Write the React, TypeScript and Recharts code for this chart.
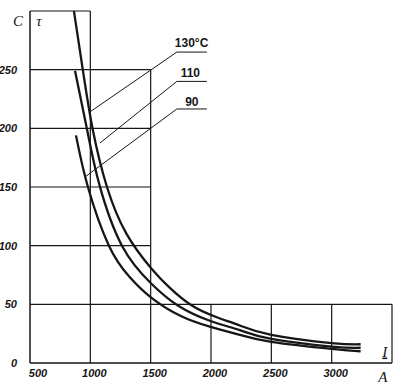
import React from "react";
import {
  LineChart,
  Line,
  XAxis,
  YAxis,
  ReferenceLine,
  ReferenceDot,
} from "recharts";

// curves: current I (A) vs time tau (s), one per temperature
const CURVE_130 = [
  { I: 864, t: 300 },
  { I: 939, t: 249 },
  { I: 1020, t: 199 },
  { I: 1138, t: 150 },
  { I: 1300, t: 110 },
  { I: 1502, t: 81 },
  { I: 1659, t: 64 },
  { I: 1841, t: 49 },
  { I: 2048, t: 39 },
  { I: 2239, t: 32 },
  { I: 2500, t: 24 },
  { I: 3000, t: 17 },
  { I: 3240, t: 16 },
];

const CURVE_110 = [
  { I: 873, t: 249 },
  { I: 975, t: 198 },
  { I: 1075, t: 152 },
  { I: 1262, t: 100 },
  { I: 1502, t: 68 },
  { I: 1725, t: 49 },
  { I: 1990, t: 36 },
  { I: 2239, t: 28 },
  { I: 2500, t: 20.5 },
  { I: 3000, t: 14 },
  { I: 3240, t: 13 },
];

const CURVE_90 = [
  { I: 881, t: 194 },
  { I: 980, t: 150 },
  { I: 1154, t: 100 },
  { I: 1320, t: 74 },
  { I: 1502, t: 56 },
  { I: 1750, t: 40 },
  { I: 1990, t: 31 },
  { I: 2239, t: 24 },
  { I: 2500, t: 18 },
  { I: 3000, t: 12 },
  { I: 3240, t: 10 },
];

const X_TICKS = [500, 1000, 1500, 2000, 2500, 3000];
const Y_TICKS = [0, 50, 100, 150, 200, 250];

// stepped grid of the original drawing
const GRID_SEGMENTS = [
  [[500, 300], [1000, 300]],
  [[1000, 0], [1000, 300]],
  [[500, 250], [1500, 250]],
  [[500, 200], [1500, 200]],
  [[500, 150], [1500, 150]],
  [[500, 100], [1500, 100]],
  [[1500, 0], [1500, 250]],
  [[500, 50], [3500, 50]],
  [[2000, 0], [2000, 50]],
  [[2500, 0], [2500, 50]],
  [[3000, 0], [3000, 50]],
  [[3500, 0], [3500, 50]],
];

// leader lines to the curve labels
const LEADERS = [
  [[997, 214], [1717, 265], [1966, 265]],
  [[1080, 187.5], [1717, 240], [1966, 240]],
  [[955, 158.5], [1717, 216.5], [1966, 216.5]],
];

const CURVE_LABELS = [
  { I: 1839, t: 273, text: "130°C" },
  { I: 1829, t: 247, text: "110" },
  { I: 1841, t: 223, text: "90" },
];

const AXIS_NAMES = [
  { I: 400, t: 292, text: "C" },
  { I: 575, t: 292, text: "τ" },
  { I: 3440, t: 10, text: "I", underline: true },
  { I: 3425, t: -12, text: "A" },
];

const INK = "#161616";

const XTick = ({ x, y, payload }: any) => (
  <text
    x={x + (payload.value === 500 ? 8 : 4)}
    y={y + 6}
    textAnchor="middle"
    fill={INK}
    fontSize={11}
    fontStyle="italic"
    fontWeight={600}
    fontFamily="Liberation Sans, Arial, sans-serif"
  >
    {payload.value}
  </text>
);

const YTick = ({ x, y, payload }: any) => (
  <text
    x={x}
    y={y + 4}
    textAnchor="end"
    fill={INK}
    fontSize={11}
    fontStyle="italic"
    fontWeight={600}
    fontFamily="Liberation Sans, Arial, sans-serif"
  >
    {payload.value}
  </text>
);

export default function App() {
  return (
    <div style={{ position: "absolute", left: 0, top: 0, background: "#fff" }}>
      <LineChart
        width={402}
        height={389}
        margin={{ top: 11, right: 10, bottom: 0, left: 0 }}
      >
        <XAxis
          dataKey="I"
          type="number"
          domain={[500, 3500]}
          ticks={X_TICKS}
          allowDuplicatedCategory={false}
          height={26}
          tickLine={false}
          axisLine={{ stroke: INK, strokeWidth: 1.5 }}
          tick={<XTick />}
        />
        <YAxis
          dataKey="t"
          type="number"
          domain={[0, 300]}
          ticks={Y_TICKS}
          width={30}
          tickLine={false}
          tickMargin={7}
          axisLine={{ stroke: INK, strokeWidth: 1.5 }}
          tick={<YTick />}
        />
        {GRID_SEGMENTS.map((s, i) => (
          <ReferenceLine
            key={"g" + i}
            segment={[
              { x: s[0][0], y: s[0][1] },
              { x: s[1][0], y: s[1][1] },
            ]}
            stroke={INK}
            strokeWidth={1.2}
            ifOverflow="visible"
          />
        ))}
        {LEADERS.map((l, i) =>
          l.slice(1).map((p, j) => (
            <ReferenceLine
              key={"l" + i + "-" + j}
              segment={[
                { x: l[j][0], y: l[j][1] },
                { x: p[0], y: p[1] },
              ]}
              stroke={INK}
              strokeWidth={1}
              ifOverflow="visible"
            />
          ))
        )}
        <Line
          data={CURVE_130}
          dataKey="t"
          type="natural"
          stroke={INK}
          strokeWidth={2.3}
          dot={false}
          isAnimationActive={false}
        />
        <Line
          data={CURVE_110}
          dataKey="t"
          type="natural"
          stroke={INK}
          strokeWidth={2.3}
          dot={false}
          isAnimationActive={false}
        />
        <Line
          data={CURVE_90}
          dataKey="t"
          type="natural"
          stroke={INK}
          strokeWidth={2.3}
          dot={false}
          isAnimationActive={false}
        />
        {CURVE_LABELS.map((c) => (
          <ReferenceDot
            key={c.text}
            x={c.I}
            y={c.t}
            r={0}
            fill="none"
            stroke="none"
            ifOverflow="visible"
            label={{
              value: c.text,
              position: "center",
              fill: INK,
              fontSize: 12,
              fontWeight: 700,
              fontFamily: "Liberation Sans Narrow, Arial Narrow, sans-serif",
            }}
          />
        ))}
        {AXIS_NAMES.map((a) => (
          <ReferenceDot
            key={a.text}
            x={a.I}
            y={a.t}
            r={0}
            fill="none"
            stroke="none"
            ifOverflow="visible"
            label={{
              value: a.text,
              position: "center",
              fill: INK,
              fontSize: 15,
              fontStyle: "italic",
              fontFamily: "Liberation Serif, serif",
              textDecoration: a.underline ? "underline" : undefined,
            }}
          />
        ))}
      </LineChart>
    </div>
  );
}
